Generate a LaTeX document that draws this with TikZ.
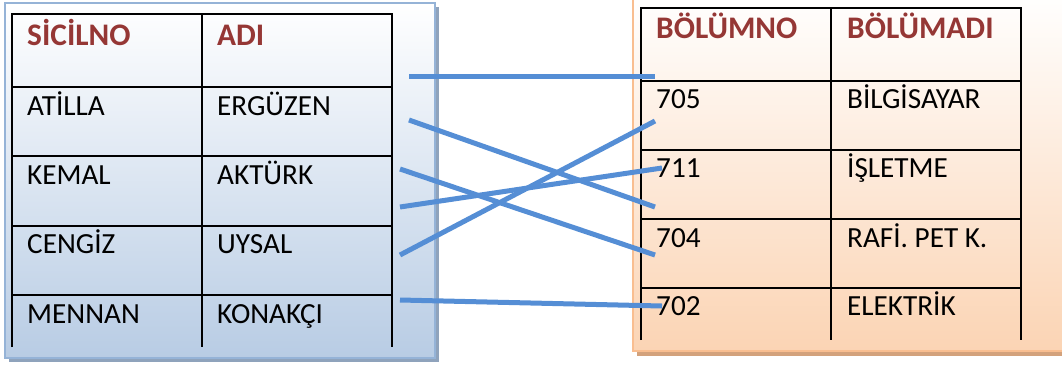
\documentclass[tikz,border=0pt]{standalone}
\usepackage{fontspec}
\setmainfont{Carlito}
\definecolor{hdr}{HTML}{953735}
\definecolor{conn}{HTML}{558ED5}
\definecolor{bluefill}{HTML}{B8CCE4}
\definecolor{blueborder}{HTML}{95B3D7}
\definecolor{blueshadow}{HTML}{8FA3BC}
\definecolor{peachfill}{HTML}{FBD4B4}
\definecolor{peachborder}{HTML}{F9BE90}
\definecolor{peachshadow}{HTML}{D3A27C}
\tikzset{
  hd/.style={anchor=base west,inner sep=0pt,font=\fontsize{31.5}{31.5}\selectfont\bfseries,text=hdr},
  cell/.style={anchor=base west,inner sep=0pt,font=\fontsize{29.3}{29.3}\selectfont},
  grid/.style={line width=1.3bp,black},
  link/.style={conn,line width=5bp},
}
\begin{document}
\begin{tikzpicture}[x=1bp,y=-1bp]
\useasboundingbox (0,0) rectangle (1062,367);
% left panel
\fill[blueshadow] (9,7) rectangle (439,362);
\shade[top color=white,bottom color=bluefill,draw=blueborder,line width=2.5bp] (5,3) rectangle (435,358);
% right panel
\fill[peachshadow] (637,-5) rectangle (1070,356);
\shade[top color=white,bottom color=peachfill,draw=peachborder,line width=2.5bp] (633,-8) rectangle (1070,351);
% left table grid
\draw[grid] (12,347) -- (12,14) -- (392,14) -- (392,347);
\draw[grid] (202,14) -- (202,347);
\foreach \y in {87,156,226,295} \draw[grid] (12,\y) -- (392,\y);
% right table grid
\draw[grid] (641,340) -- (641,8) -- (1021,8) -- (1021,340);
\draw[grid] (831,8) -- (831,340);
\foreach \y in {81,150,219,288} \draw[grid] (641,\y) -- (1021,\y);
% left texts
\node[hd] (h1) at (27,45) {SİCİLNO};
\node[hd] (h2) at (217,45) {ADI};
\node[cell] (a1) at (27,115) {ATİLLA};
\node[cell] (b1) at (217,115) {ERGÜZEN};
\node[cell] (a2) at (27,184) {KEMAL};
\node[cell] (b2) at (217,184) {AKTÜRK};
\node[cell] (a3) at (27,253) {CENGİZ};
\node[cell] (b3) at (217,253) {UYSAL};
\node[cell] (a4) at (27,323) {MENNAN};
\node[cell] (b4) at (217,323) {KONAKÇI};
% right texts
\node[hd] (h3) at (656,38) {BÖLÜMNO};
\node[hd] (h4) at (847,38) {BÖLÜMADI};
\node[cell] (c1) at (656,108) {705};
\node[cell] (d1) at (847,108) {BİLGİSAYAR};
\node[cell] (c2) at (656,177) {711};
\node[cell] (d2) at (847,177) {İŞLETME};
\node[cell] (c3) at (656,247) {704};
\node[cell] (d3) at (847,247) {RAFİ. PET K.};
\node[cell] (c4) at (656,315) {702};
\node[cell] (d4) at (847,315) {ELEKTRİK};
% connector ends
\coordinate (l1) at (409,76);
\coordinate (r1) at (655,76);
\coordinate (l2) at (409,120);
\coordinate (r2) at (655,207);
\coordinate (l3) at (400,169);
\coordinate (r3) at (655,255);
\coordinate (l4) at (400,207);
\coordinate (r4) at (662,168);
\coordinate (l5) at (400,255);
\coordinate (r5) at (655,121);
\coordinate (l6) at (400,300);
\coordinate (r6) at (662,306);
\draw[link] (l1) -- (r1);
\draw[link] (l2) -- (r2);
\draw[link] (l3) -- (r3);
\draw[link] (l4) -- (r4);
\draw[link] (l5) -- (r5);
\draw[link] (l6) -- (r6);
\end{tikzpicture}
\end{document}
